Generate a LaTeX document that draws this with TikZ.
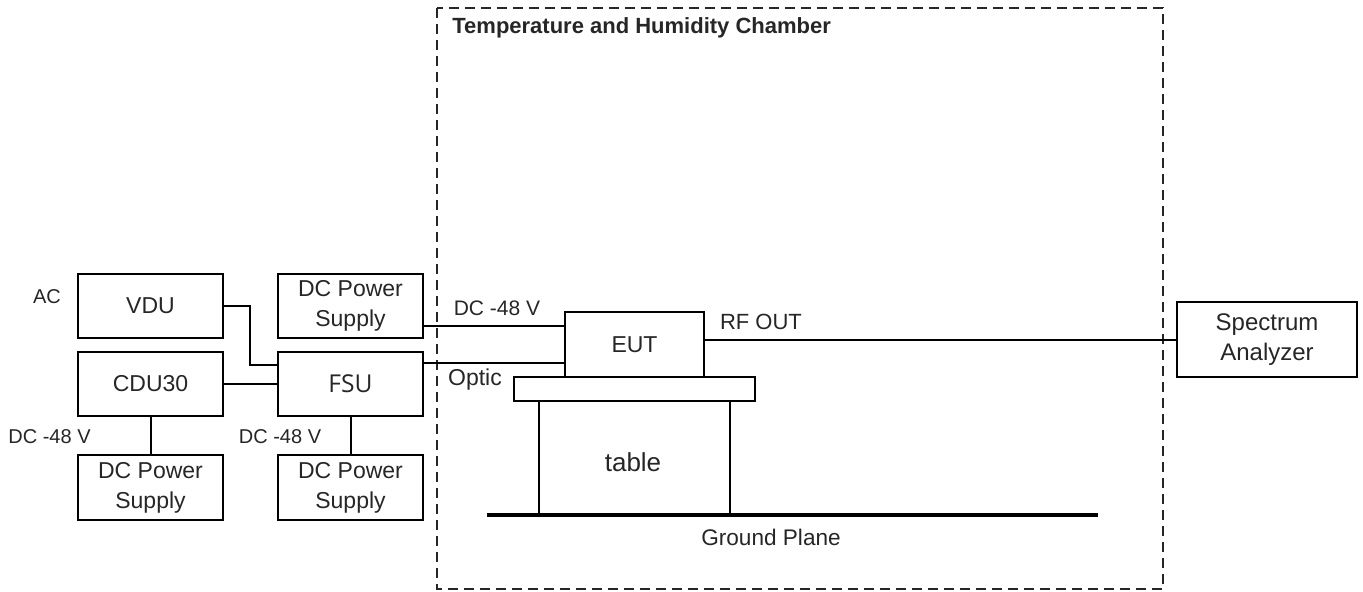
\documentclass[tikz,border=0pt]{standalone}
\usepackage{fontspec}
\setmainfont{Liberation Sans}
\newfontfamily\fsufont{Open Sans}
\begin{document}
\begin{tikzpicture}[x=0.5pt,y=-0.5pt,
  box/.style={draw=black,line width=1pt,inner sep=0pt,align=center,text=black!85,font=\fontsize{11.5}{15}\selectfont},
  wire/.style={draw=black,line width=1pt},
  lbl/.style={inner sep=0pt,text=black!85,font=\fontsize{10}{12}\selectfont},
  chamber/.style={draw=black!85,line width=0.8pt,dash pattern=on 5pt off 3pt}]
\useasboundingbox (0,0) rectangle (1363,591);
% chamber
\draw[chamber] (437,8) rectangle (1163,589);
\node[lbl,anchor=west,font=\bfseries\fontsize{11}{13}\selectfont] (title) at (452,28) {Temperature and Humidity Chamber};
% left boxes
\node[box,minimum width=72.5pt,minimum height=32pt] (vdu) at (150.5,306) {VDU};
\node[box,minimum width=72.5pt,minimum height=32pt] (cdu) at (150.5,384) {CDU30};
\node[box,minimum width=72.5pt,minimum height=32.5pt] (ps1) at (150.5,487.5) {DC Power\\Supply};
\node[box,minimum width=72.5pt,minimum height=32pt] (ps2) at (350.5,306) {DC Power\\Supply};
\node[box,minimum width=72.5pt,minimum height=32pt,font=\fsufont\fontsize{12.3}{14}\selectfont] (fsu) at (350.5,384) {FSU};
\node[box,minimum width=72.5pt,minimum height=32.5pt] (ps3) at (350.5,487.5) {DC Power\\Supply};
% EUT and table
\node[box,minimum width=69.5pt,minimum height=32.5pt] (eut) at (634.5,344.5) {EUT};
\node[box,minimum width=120.5pt,minimum height=12pt] (slab) at (634.5,389) {};
\coordinate (gl) at (487,515);
\coordinate (gr) at (1098,515);
\draw[line width=2pt] (gl) -- (gr);
\draw[wire] (slab.south -| 539,0) -- (539,515);
\draw[wire] (slab.south -| 730,0) -- (730,515);
\node[lbl,font=\fontsize{13}{15}\selectfont] (table) at (633,462) {table};
\node[lbl,font=\fontsize{11.3}{13}\selectfont] (gp) at (771,537) {Ground Plane};
% spectrum analyzer
\node[box,minimum width=90pt,minimum height=37.5pt,font=\fontsize{12}{15}\selectfont] (sa) at (1267,339.5) {Spectrum\\Analyzer};
% connectors
\draw[wire] (vdu.east) -- (250,306) |- (fsu.west |- 0,365);
\draw[wire] (cdu.east) -- (fsu.west);
\draw[wire] (cdu.south) -- (ps1.north);
\draw[wire] (fsu.south) -- (ps3.north);
\draw[wire] (ps2.east |- 0,326) -- (eut.west |- 0,326);
\draw[wire] (fsu.east |- 0,363) -- (eut.west |- 0,363);
\draw[wire] (eut.east |- sa.west) -- (sa.west);
% labels
\node[lbl] (ac) at (47,297) {AC};
\node[lbl] (dcl) at (49.5,437) {DC -48 V};
\node[lbl] (dcm) at (280,437) {DC -48 V};
\node[lbl,font=\fontsize{10.5}{12}\selectfont] (dcc) at (497,308) {DC -48 V};
\node[lbl,font=\fontsize{11.5}{13}\selectfont] (optic) at (475,380) {Optic};
\node[lbl,font=\fontsize{11}{13}\selectfont] (rf) at (761,322) {RF OUT};
\end{tikzpicture}
\end{document}
